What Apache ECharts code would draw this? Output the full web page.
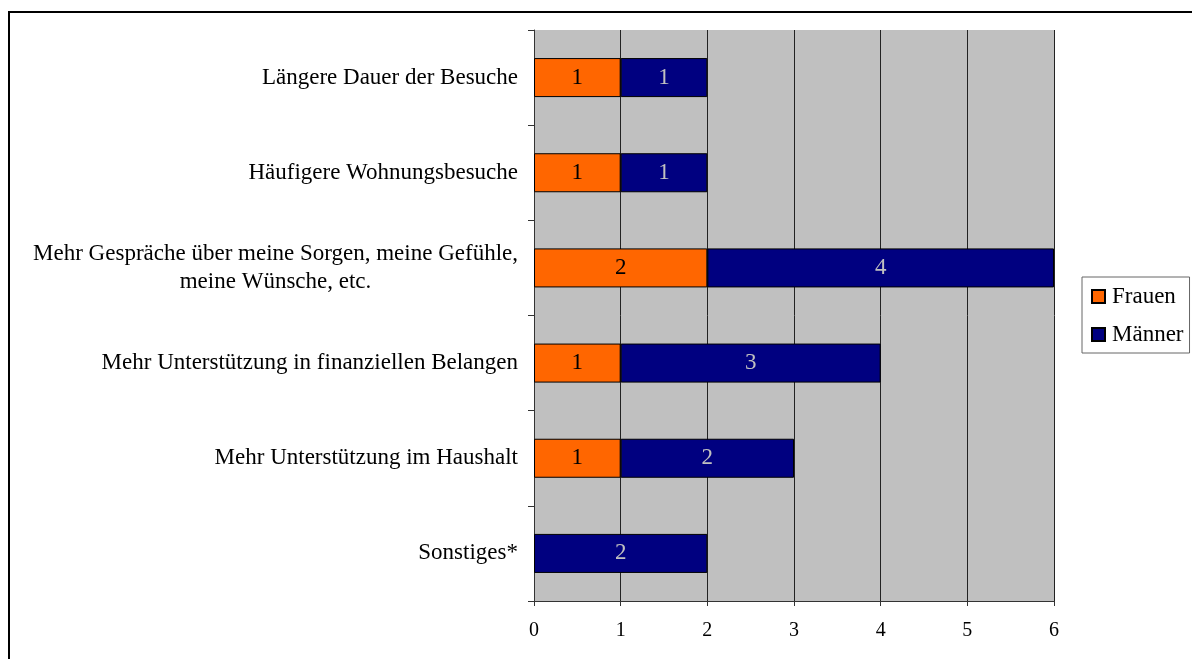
<!DOCTYPE html>
<html>
<head>
<meta charset="utf-8">
<script src="https://cdn.jsdelivr.net/npm/echarts@6/dist/echarts.min.js"></script>
<style>
  html, body { margin: 0; padding: 0; background: #fff; overflow: hidden; }
  .frame {
    position: absolute;
    left: 8px; top: 11px;
    width: 1300px; height: 800px;
    border: 2px solid #000;
    box-sizing: border-box;
  }
  #chart { position: absolute; left: 0; top: 0; width: 1192px; height: 659px; }
</style>
</head>
<body>
<div class="frame"></div>
<div id="chart"></div>
<script>
  // Kategorien (von oben nach unten)
  var categories = [
    'Längere Dauer der Besuche',
    'Häufigere Wohnungsbesuche',
    'Mehr Gespräche über meine Sorgen, meine Gefühle,\nmeine Wünsche, etc.',
    'Mehr Unterstützung in finanziellen Belangen',
    'Mehr Unterstützung im Haushalt',
    'Sonstiges*'
  ];
  var frauen = [1, 1, 2, 1, 1, null];
  var maenner = [1, 1, 4, 3, 2, 2];
  var xTicks = [0, 1, 2, 3, 4, 5, 6];

  var serif = '"Liberation Serif", "DejaVu Serif", serif';
  var myChart = echarts.init(document.getElementById('chart'));

  myChart.setOption({
    animation: false,
    grid: { left: 534, right: 138, top: 30, bottom: 58, show: true, backgroundColor: '#c0c0c0', borderWidth: 0 },
    legend: {
      orient: 'vertical',
      left: 1082, top: 277,
      data: ['Frauen', 'Männer'],
      selectedMode: false,
      itemWidth: 13, itemHeight: 13, itemGap: 15,
      icon: 'rect',
      padding: [8, 6, 7, 9],
      borderColor: '#666', borderWidth: 1,
      textStyle: { fontFamily: serif, fontSize: 23, color: '#000', padding: [0, 0, 0, 2] }
    },
    xAxis: {
      type: 'value',
      min: xTicks[0], max: xTicks[xTicks.length - 1], interval: 1,
      axisLine: { show: true, lineStyle: { color: '#333', width: 1 } },
      axisTick: { show: true, length: 5, lineStyle: { color: '#333' } },
      axisLabel: { fontFamily: serif, fontSize: 20, color: '#000', margin: 20 },
      splitLine: { show: true, lineStyle: { color: '#222', width: 1 } }
    },
    yAxis: {
      type: 'category',
      inverse: true,
      data: categories,
      axisLine: { show: true, lineStyle: { color: '#333', width: 1 } },
      axisTick: { show: true, length: 6, lineStyle: { color: '#333' } },
      axisLabel: {
        fontFamily: serif, fontSize: 23, color: '#000', margin: 16,
        formatter: function (v) {
          return v.split('\n').map(function (s) { return '{c|' + s + '}'; }).join('\n');
        },
        rich: { c: { fontFamily: serif, fontSize: 23, color: '#000', align: 'center', lineHeight: 28 } }
      },
      splitLine: { show: false }
    },
    series: [
      {
        name: 'Frauen', type: 'bar', stack: 'a', data: frauen, barWidth: '41%',
        itemStyle: { color: '#ff6600', borderColor: '#000', borderWidth: 1 },
        label: { show: true, position: 'inside', fontFamily: serif, fontSize: 23, color: '#000' }
      },
      {
        name: 'Männer', type: 'bar', stack: 'a', data: maenner, barWidth: '41%',
        itemStyle: { color: '#000080', borderColor: '#000', borderWidth: 1 },
        label: { show: true, position: 'inside', fontFamily: serif, fontSize: 23, color: '#c0c0c0' }
      }
    ]
  });
</script>
</body>
</html>
